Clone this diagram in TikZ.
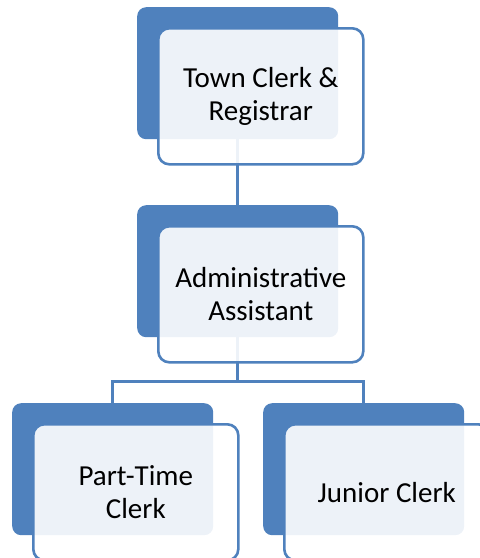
\documentclass[tikz,border=0pt]{standalone}
\usepackage{fontspec}
\setmainfont{Carlito}
\definecolor{accent}{HTML}{4F81BD}
\begin{document}
\begin{tikzpicture}[x=1pt,y=1pt,
  backbox/.style={draw=none,fill=accent,rounded corners=9pt,inner sep=0pt,anchor=north west,minimum width=201pt,minimum height=132pt},
  frontbox/.style={draw=accent,line width=2.6pt,fill=white,fill opacity=0.9,text opacity=1,rounded corners=11pt,inner sep=0pt,anchor=north west,minimum width=205pt,minimum height=136pt,align=center,font=\fontsize{29}{33}\selectfont},
  link/.style={draw=accent,line width=2.6pt}]
\useasboundingbox (0,0) rectangle (480,-558);
% back boxes
\node[backbox] (b1) at (137,-7) {};
\node[backbox] (b2) at (137,-205) {};
\node[backbox] (b3) at (12,-403) {};
\node[backbox] (b4) at (263,-403) {};
% connectors
\draw[link] (b1.south) -- (b2.north);
\draw[link] (b2.south) -- ++(0,-44) coordinate (bus);
\draw[link] (b3.north) |- (bus) -| (b4.north);
% front boxes
\node[frontbox] (f1) at (157,-27) {Town Clerk \&\\Registrar};
\node[frontbox] (f2) at (157,-225) {Administrative\\Assistant};
\node[frontbox] (f3) at (32,-423) {Part-Time\\Clerk};
\node[frontbox] (f4) at (283,-423) {Junior Clerk};
\end{tikzpicture}
\end{document}
